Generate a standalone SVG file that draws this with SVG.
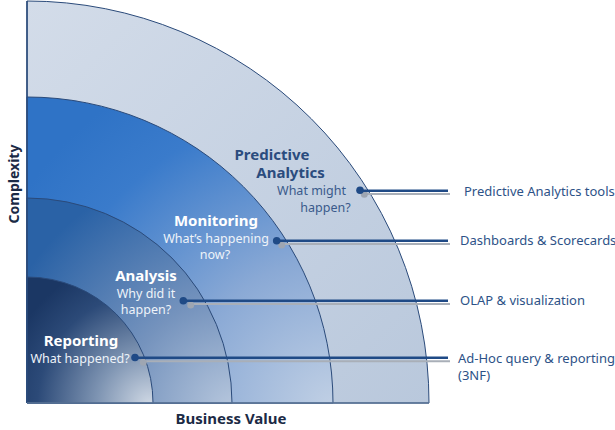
<svg xmlns="http://www.w3.org/2000/svg" width="615" height="430" viewBox="0 0 615 430">
  <defs>
    <linearGradient id="gOuter" x1="27" y1="1" x2="429" y2="403" gradientUnits="userSpaceOnUse">
      <stop offset="0" stop-color="#d3dce9"/>
      <stop offset="1" stop-color="#b9c8dc"/>
    </linearGradient>
    <radialGradient id="gMon" cx="335" cy="410" r="380" gradientUnits="userSpaceOnUse">
      <stop offset="0" stop-color="#c2d1e5"/>
      <stop offset="0.4" stop-color="#8aa9d5"/>
      <stop offset="0.8" stop-color="#3a7bcb"/>
      <stop offset="1" stop-color="#2f73c6"/>
    </radialGradient>
    <radialGradient id="gAna" cx="235" cy="410" r="250" gradientUnits="userSpaceOnUse">
      <stop offset="0" stop-color="#b8c8de"/>
      <stop offset="0.45" stop-color="#7593bd"/>
      <stop offset="1" stop-color="#2a62a6"/>
    </radialGradient>
    <radialGradient id="gRep" cx="150" cy="405" r="150" gradientUnits="userSpaceOnUse">
      <stop offset="0" stop-color="#d0d9e5"/>
      <stop offset="0.35" stop-color="#7f95b3"/>
      <stop offset="0.75" stop-color="#2c4a78"/>
      <stop offset="1" stop-color="#1b3764"/>
    </radialGradient>
  </defs>
  <style>
    .band { stroke: #2a4a7a; stroke-width: 1; }
    .t { font-family: "Noto Sans", "Open Sans", sans-serif; }
    .title { font-weight: bold; font-size: 15px; text-anchor: middle; }
    .sub { font-size: 12.5px; text-anchor: middle; }
    .w { fill: #ffffff; }
    .ws { fill: #eef3f9; }
    .lab { font-size: 13px; fill: #2d5287; }
    .axis { font-weight: bold; font-size: 15px; fill: #1b2a45; text-anchor: middle; }
    .dk { stroke: #1f4a86; stroke-width: 2.5; fill: none; }
    .gr { stroke: #a9afb8; stroke-width: 2; fill: none; }
    .dkd { fill: #1f4a86; }
    .grd { fill: #9ea6b2; }
  </style>

  <g id="predictive">
    <path class="band" fill="url(#gOuter)" d="M27,403 L27,1 A402,402 0 0 1 429,403 Z"/>
  </g>
  <g id="monitoring">
    <path class="band" fill="url(#gMon)" d="M27,403 L27,97 A306,306 0 0 1 333,403 Z"/>
  </g>
  <g id="analysis">
    <path class="band" fill="url(#gAna)" d="M27,403 L27,198 A205,205 0 0 1 232,403 Z"/>
  </g>
  <g id="reporting">
    <path class="band" fill="url(#gRep)" d="M27,403 L27,277 A126,126 0 0 1 153,403 Z"/>
  </g>

  <g id="axes">
    <line x1="27" y1="1" x2="27" y2="403" stroke="#2a4a7a" stroke-width="1.5"/>
    <line x1="27" y1="403" x2="429" y2="403" stroke="#5d7697" stroke-width="1.5"/>
  </g>

  <g id="connectors">
    <line class="gr" x1="364" y1="194" x2="450" y2="194"/>
    <circle class="grd" cx="364.3" cy="194.3" r="3.5"/>
    <line class="dk" x1="360" y1="190.7" x2="448" y2="190.7"/>
    <circle class="dkd" cx="360" cy="190.3" r="3.8"/>

    <line class="gr" x1="282" y1="244" x2="450" y2="244"/>
    <circle class="grd" cx="281.7" cy="245" r="3.5"/>
    <line class="dk" x1="277" y1="240.7" x2="448" y2="240.7"/>
    <circle class="dkd" cx="276.7" cy="240.7" r="3.8"/>

    <line class="gr" x1="190" y1="304" x2="450" y2="304"/>
    <circle class="grd" cx="190.7" cy="305" r="3.5"/>
    <line class="dk" x1="183" y1="300.7" x2="448" y2="300.7"/>
    <circle class="dkd" cx="183.3" cy="300.7" r="3.8"/>

    <line class="gr" x1="143" y1="361.3" x2="450" y2="361.3"/>
    <circle class="grd" cx="143.3" cy="362.3" r="3.5"/>
    <line class="dk" x1="135" y1="357.7" x2="448" y2="357.7"/>
    <circle class="dkd" cx="135" cy="357.5" r="3.8"/>
  </g>

  <g id="band-labels" class="t">
    <text class="title" x="272" y="160" fill="#2b4c7e">Predictive</text>
    <text class="title" x="290.5" y="178" fill="#2b4c7e">Analytics</text>
    <text class="sub" x="311.5" y="195" fill="#3a5a8b">What might</text>
    <text class="sub" x="325.5" y="212" fill="#3a5a8b">happen?</text>

    <text class="title w" x="216" y="226">Monitoring</text>
    <text class="sub ws" x="216" y="243">What’s happening</text>
    <text class="sub ws" x="215" y="259">now?</text>

    <text class="title w" x="146" y="281">Analysis</text>
    <text class="sub ws" x="146" y="298">Why did it</text>
    <text class="sub ws" x="146" y="314">happen?</text>

    <text class="title w" x="81" y="346">Reporting</text>
    <text class="sub ws" x="80" y="363">What happened?</text>
  </g>

  <g id="right-labels" class="t">
    <text class="lab" x="464" y="196">Predictive Analytics tools</text>
    <text class="lab" x="460" y="245">Dashboards &amp; Scorecards</text>
    <text class="lab" x="460" y="305">OLAP &amp; visualization</text>
    <text class="lab" x="458" y="363">Ad-Hoc query &amp; reporting</text>
    <text class="lab" x="458" y="380">(3NF)</text>
  </g>

  <g id="axis-labels" class="t">
    <text class="axis" x="231" y="424">Business Value</text>
    <text class="axis" style="font-size:14px" transform="translate(19,184) rotate(-90)">Complexity</text>
  </g>
</svg>
